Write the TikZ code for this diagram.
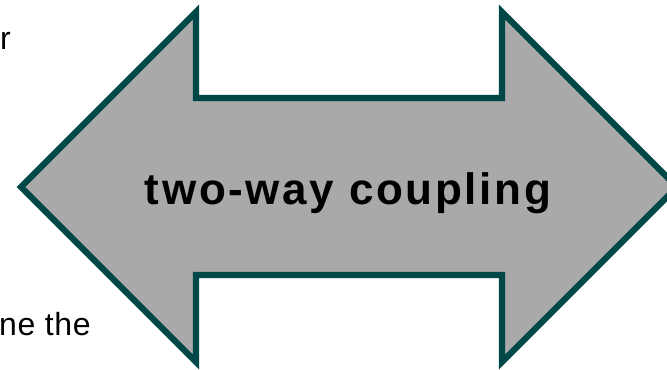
\documentclass[tikz,border=0pt]{standalone}
\usepackage{fontspec}
\setmainfont{Liberation Sans}
\definecolor{arrowedge}{RGB}{0,72,72}
\definecolor{arrowfill}{RGB}{169,169,169}
\begin{document}
\begin{tikzpicture}[x=0.75pt, y=-0.75pt]
  \useasboundingbox (0,0) rectangle (667,369);
  \clip (0,0) rectangle (667,369);
  % Double arrow (right tip runs past the page edge)
  \draw[arrowedge, line width=4.6pt, fill=arrowfill, line join=miter]
    (21,187) -- (196,12) -- (196,98) -- (502,98) -- (502,12) -- (677,187)
    -- (502,362) -- (502,275) -- (196,275) -- (196,362) -- cycle;
  % Label in the shaft
  \node[anchor=base, inner sep=0pt,
    font=\fontsize{33}{38}\selectfont\bfseries\addfontfeature{LetterSpace=6}]
    (coupling) at (348,204) {two-way coupling};
  % Cut-off text of the slide
  \node[anchor=base east, inner sep=0pt, font=\fontsize{24}{28}\selectfont]
    (textr) at (11,49) {r};
  \node[anchor=base east, inner sep=0pt,
    font=\fontsize{24}{28}\selectfont\addfontfeature{LetterSpace=2}]
    (textthe) at (91,335) {ne the};
\end{tikzpicture}
\end{document}
